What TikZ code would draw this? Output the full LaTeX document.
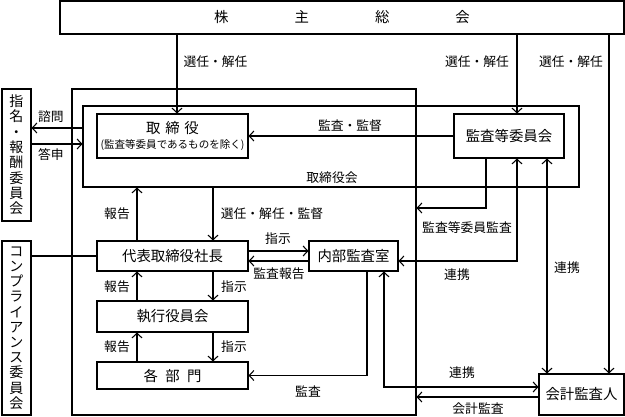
\documentclass[tikz,border=0pt]{standalone}
\usepackage{fontspec}
\setmainfont{Noto Sans CJK JP}
\usetikzlibrary{arrows.meta}
\tikzset{
  box/.style 2 args={draw, line width=0.8pt, inner sep=0pt, minimum width=#1*0.75pt, minimum height=#2*0.75pt, align=center, font=\fontsize{10.8}{12}\selectfont},
  lab/.style={inner sep=0pt, font=\fontsize{9.6}{11}\selectfont},
  conn/.style={line width=0.8pt},
  >={Straight Barb[length=3.5pt,width=7.5pt]}
}
\begin{document}
\begin{tikzpicture}[x=0.75pt,y=-0.75pt]
\useasboundingbox (0,0) rectangle (625,417);
% columns and rows
\coordinate (xA) at (177,0);
\coordinate (xB) at (517,0);
\coordinate (xC) at (609,0);
\coordinate (xD) at (547,0);
\coordinate (xE) at (486,0);
\coordinate (xF) at (137,0);
\coordinate (xG) at (213,0);
\coordinate (xH) at (367,0);
\coordinate (xI) at (384,0);
\coordinate (y1) at (0,128);
\coordinate (y2) at (0,144);
\coordinate (y3) at (0,251);
\coordinate (y4) at (0,261);
\coordinate (y5) at (0,208);
\coordinate (y6) at (0,387);
\coordinate (y7) at (0,397);
% boxes
\node[box={564}{33}] (sh) at (342,17.5) {株\hspace{49.5pt}主\hspace{49.5pt}総\hspace{49.5pt}会};
\node[box={344}{326}] (company) at (244,252) {};
\node[box={496}{81}] (board) at (331,146.5) {};
\node[box={151}{44}] (dir) at (172.5,136) {取\hspace{3.5pt}締\hspace{3.5pt}役\\[-1pt]{\fontsize{7.9}{9}\selectfont (監査等委員であるものを除く)}};
\node[box={110}{44}] (aud) at (509,136) {監査等委員会};
\node[box={29}{132}, font=\fontsize{10.5}{11.5}\selectfont] (nom) at (16.5,155) {指\\名\\・\\報\\酬\\委\\員\\会};
\node[box={29}{174}, font=\fontsize{10.5}{11.4}\selectfont] (comp) at (16.5,328) {コ\\ン\\プ\\ラ\\イ\\ア\\ン\\ス\\委\\員\\会};
\node[box={151}{30}] (pres) at (172.5,256) {代表取締役社長};
\node[box={151}{31}] (exec) at (172.5,316.5) {執行役員会};
\node[box={151}{27}] (dept) at (172.5,375.5) {各\hspace{5.5pt}部\hspace{5.5pt}門};
\node[box={89}{30}] (ia) at (353.5,256) {内部監査室};
\node[box={85}{41}] (acc) at (581.5,394.5) {会計監査人};
% labels
\node[lab] (l1) at (215.5,62) {選任・解任};
\node[lab] (l2) at (477,62) {選任・解任};
\node[lab] (l3) at (571,62) {選任・解任};
\node[lab] (l4) at (350,126) {監査・監督};
\node[lab] (l5) at (332,178) {取締役会};
\node[lab] (l6) at (51,117) {諮問};
\node[lab] (l7) at (51,155) {答申};
\node[lab] (l8) at (117,214) {報告};
\node[lab] (l9) at (272,214) {選任・解任・監督};
\node[lab] (l10) at (117,287) {報告};
\node[lab] (l11) at (234,287) {指示};
\node[lab] (l12) at (117,347) {報告};
\node[lab] (l13) at (234,347) {指示};
\node[lab] (l14) at (278,239) {指示};
\node[lab] (l15) at (279,274) {監査報告};
\node[lab] (l16) at (308,392) {監査};
\node[lab] (l17) at (467,228) {監査等委員監査};
\node[lab] (l18) at (457,275) {連携};
\node[lab] (l19) at (567,268) {連携};
\node[lab] (l20) at (462,373) {連携};
\node[lab] (l21) at (478,409) {会計監査};
% connectors
\draw[conn,->] (sh.south -| xA) -- (dir.north -| xA);
\draw[conn,->] (sh.south -| xB) -- (aud.north -| xB);
\draw[conn,->] (sh.south -| xC) -- (acc.north -| xC);
\draw[conn,->] (aud.west) -- (dir.east);
\draw[conn,->] (board.west |- y1) -- (nom.east |- y1);
\draw[conn,->] (nom.east |- y2) -- (board.west |- y2);
\draw[conn] (comp.east |- pres.west) -- (pres.west);
\draw[conn,->] (pres.north -| xF) -- (board.south -| xF);
\draw[conn,->] (board.south -| xG) -- (pres.north -| xG);
\draw[conn,->] (exec.north -| xF) -- (pres.south -| xF);
\draw[conn,->] (pres.south -| xG) -- (exec.north -| xG);
\draw[conn,->] (dept.north -| xF) -- (exec.south -| xF);
\draw[conn,->] (exec.south -| xG) -- (dept.north -| xG);
\draw[conn,->] (pres.east |- y3) -- (ia.west |- y3);
\draw[conn,->] (ia.west |- y4) -- (pres.east |- y4);
\draw[conn,->] (ia.south -| xH) |- (dept.east);
\draw[conn,->] (aud.south -| xE) |- (company.east |- y5);
\draw[conn,<->] (ia.east |- y4) -| (aud.south -| xB);
\draw[conn,<->] (aud.south -| xD) -- (acc.north -| xD);
\draw[conn,<->] (ia.south -| xI) |- (acc.west |- y6);
\draw[conn,->] (acc.west |- y7) -- (company.east |- y7);
\end{tikzpicture}
\end{document}
